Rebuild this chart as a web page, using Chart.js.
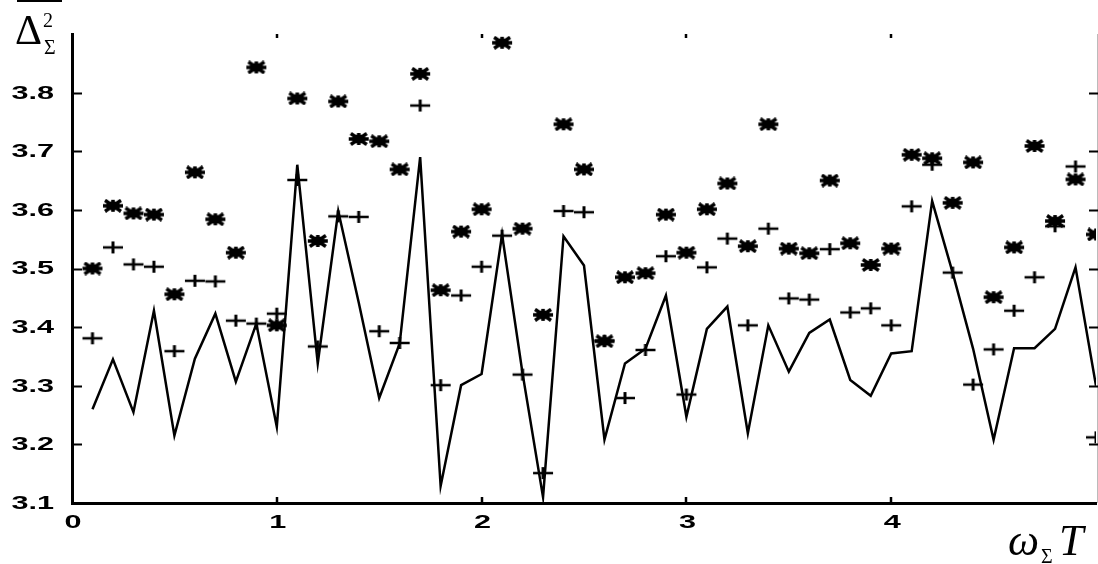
<!DOCTYPE html>
<html>
<head>
<meta charset="utf-8">
<title>chart</title>
<script src="https://cdn.jsdelivr.net/npm/chart.js@4.4.1/dist/chart.umd.min.js"></script>
<style>
  html, body { margin: 0; padding: 0; background: #fff; overflow: hidden; }
  canvas { display: block; }
</style>
</head>
<body>
<canvas id="myChart" width="1101" height="564"></canvas>
<script>
// x positions (omega_sigma * T)
const xValues = [0.1, 0.2, 0.3, 0.4, 0.5, 0.6, 0.7, 0.8, 0.9, 1.0,
                 1.1, 1.2, 1.3, 1.4, 1.5, 1.6, 1.7, 1.8, 1.9, 2.0,
                 2.1, 2.2, 2.3, 2.4, 2.5, 2.6, 2.7, 2.8, 2.9, 3.0,
                 3.1, 3.2, 3.3, 3.4, 3.5, 3.6, 3.7, 3.8, 3.9, 4.0,
                 4.1, 4.2, 4.3, 4.4, 4.5, 4.6, 4.7, 4.8, 4.9, 5.0];

// solid line
const lineValues = [3.26, 3.345, 3.255, 3.428, 3.215, 3.346, 3.423, 3.307, 3.406, 3.23,
                    3.677, 3.338, 3.598, 3.442, 3.279, 3.372, 3.69, 3.129, 3.301, 3.32,
                    3.558, 3.321, 3.11, 3.555, 3.505, 3.208, 3.338, 3.363, 3.454, 3.247,
                    3.397, 3.435, 3.219, 3.403, 3.324, 3.39, 3.413, 3.31, 3.283, 3.355,
                    3.359, 3.615, 3.493, 3.363, 3.208, 3.364, 3.364, 3.397, 3.502, 3.30];

// '*' markers
const starValues = [3.50, 3.607, 3.594, 3.592, 3.456, 3.664, 3.584, 3.527, 3.843, 3.403,
                    3.79, 3.547, 3.785, 3.721, 3.717, 3.669, 3.832, 3.463, 3.563, 3.601,
                    3.885, 3.568, 3.421, 3.746, 3.669, 3.376, 3.485, 3.492, 3.592, 3.527,
                    3.601, 3.645, 3.538, 3.746, 3.534, 3.526, 3.65, 3.543, 3.506, 3.534,
                    3.694, 3.688, 3.612, 3.681, 3.451, 3.536, 3.709, 3.581, 3.652, 3.558];

// '+' markers
const plusValues = [3.381, 3.536, 3.507, 3.503, 3.359, 3.479, 3.478, 3.411, 3.406, 3.423,
                    3.651, 3.367, 3.589, 3.588, 3.393, 3.373, 3.778, 3.301, 3.454, 3.503,
                    3.556, 3.319, 3.151, 3.598, 3.596, 3.377, 3.279, 3.361, 3.521, 3.285,
                    3.502, 3.551, 3.403, 3.568, 3.449, 3.447, 3.533, 3.425, 3.432, 3.403,
                    3.606, 3.677, 3.493, 3.302, 3.362, 3.428, 3.485, 3.572, 3.674, 3.212];

// tick labels that are visible
const xTickLabels = ['0', '1', '2', '3', '4'];
const yTickLabels = ['3.1', '3.2', '3.3', '3.4', '3.5', '3.6', '3.7', '3.8'];

function toPoints(ys) {
    return xValues.map((x, i) => ({ x: x, y: ys[i] }));
}

// marker images (stretched, like the picture)
function makeStar() {
    const c = document.createElement('canvas');
    c.width = 22; c.height = 14;
    const g = c.getContext('2d');
    g.strokeStyle = '#000';
    g.fillStyle = '#000';
    g.lineWidth = 3.5;
    g.beginPath();
    g.moveTo(1, 7); g.lineTo(21, 7);
    g.moveTo(3, 1.5); g.lineTo(19, 12.5);
    g.moveTo(3, 12.5); g.lineTo(19, 1.5);
    g.moveTo(11, 1); g.lineTo(11, 13);
    g.stroke();
    g.beginPath();
    g.ellipse(11, 7, 7, 4.5, 0, 0, Math.PI * 2);
    g.fill();
    return c;
}

function makePlus() {
    const c = document.createElement('canvas');
    c.width = 22; c.height = 14;
    const g = c.getContext('2d');
    g.strokeStyle = '#000';
    g.lineWidth = 2.5;
    g.beginPath();
    g.moveTo(1, 7); g.lineTo(21, 7);
    g.stroke();
    g.lineWidth = 3;
    g.beginPath();
    g.moveTo(11, 1); g.lineTo(11, 13);
    g.stroke();
    return c;
}

function wideText(ctx, txt, x, y, sx, align) {
    ctx.save();
    ctx.translate(x, y);
    ctx.scale(sx, 1);
    ctx.textAlign = align;
    ctx.fillText(txt, 0, 0);
    ctx.restore();
}

const RIGHT_EDGE = 1097; // where the right box edge shows in the window

// ticks, labels and axis titles, drawn MATLAB style
const decor = {
    id: 'decor',
    afterDraw(chart) {
        const { ctx, chartArea: a, scales: { x, y } } = chart;
        ctx.save();
        ctx.strokeStyle = '#000';
        ctx.fillStyle = '#000';

        // right box edge
        ctx.strokeStyle = '#bbb';
        ctx.lineWidth = 1;
        ctx.beginPath();
        ctx.moveTo(RIGHT_EDGE + 0.5, a.top);
        ctx.lineTo(RIGHT_EDGE + 0.5, a.bottom);
        ctx.stroke();
        ctx.strokeStyle = '#000';

        // y ticks (inside, both sides)
        ctx.lineWidth = 2;
        y.ticks.forEach(t => {
            if (t.value <= y.min + 1e-9 || t.value >= y.max - 1e-9) return;
            const py = Math.round(y.getPixelForValue(t.value)) + 0.5;
            ctx.beginPath();
            ctx.moveTo(a.left, py); ctx.lineTo(a.left + 10, py);
            ctx.moveTo(RIGHT_EDGE - 8, py); ctx.lineTo(RIGHT_EDGE + 1, py);
            ctx.stroke();
        });

        // x ticks (inside, bottom and top)
        ctx.lineWidth = 2.5;
        x.ticks.forEach(t => {
            if (t.value <= x.min || t.value >= x.max) return;
            const px = Math.round(x.getPixelForValue(t.value));
            ctx.beginPath();
            ctx.moveTo(px, a.bottom); ctx.lineTo(px, a.bottom - 6);
            ctx.moveTo(px, a.top); ctx.lineTo(px, a.top + 4);
            ctx.stroke();
        });

        // tick labels
        ctx.font = 'bold 18px "Liberation Sans", Arial, sans-serif';
        ctx.textBaseline = 'middle';
        yTickLabels.forEach(lbl => {
            const py = y.getPixelForValue(parseFloat(lbl));
            wideText(ctx, lbl, 54, py + 1, 1.7, 'right');
        });
        xTickLabels.forEach(lbl => {
            const px = x.getPixelForValue(parseFloat(lbl));
            wideText(ctx, lbl, px + 1, 523, 1.7, 'center');
        });

        // y title: overline Delta^2_Sigma
        ctx.textBaseline = 'alphabetic';
        ctx.textAlign = 'left';
        ctx.font = '42px "Liberation Serif", "Times New Roman", serif';
        ctx.fillText('\u0394', 15, 44);
        ctx.font = '20px "Liberation Serif", "Times New Roman", serif';
        ctx.fillText('2', 43, 27);
        ctx.font = '20px "Liberation Serif", "Times New Roman", serif';
        ctx.fillText('\u03A3', 44, 54);
        ctx.lineWidth = 2;
        ctx.beginPath();
        ctx.moveTo(17, 1); ctx.lineTo(62, 1);
        ctx.stroke();

        // x title: omega_Sigma T
        ctx.font = 'italic 44px "Liberation Serif", "Times New Roman", serif';
        ctx.fillText('\u03C9', 1008, 555);
        ctx.font = '20px "Liberation Serif", "Times New Roman", serif';
        ctx.fillText('\u03A3', 1041, 563);
        ctx.font = 'italic 44px "Liberation Serif", "Times New Roman", serif';
        ctx.fillText('T', 1059, 555);

        ctx.restore();
    }
};

const data = {
    datasets: [
        {
            type: 'line',
            label: 'line',
            data: toPoints(lineValues),
            borderColor: '#000',
            borderWidth: 2.5,
            pointRadius: 0,
            tension: 0,
            fill: false,
            order: 3,
        },
        {
            type: 'scatter',
            label: 'star',
            data: toPoints(starValues),
            pointStyle: makeStar(),
            order: 2,
        },
        {
            type: 'scatter',
            label: 'plus',
            data: toPoints(plusValues),
            pointStyle: makePlus(),
            order: 1,
        },
    ],
};

const config = {
    data,
    options: {
        responsive: false,
        animation: false,
        devicePixelRatio: 1,
        layout: { padding: { left: 72, top: 34, right: 0, bottom: 61 } },
        scales: {
            x: {
                type: 'linear',
                min: 0,
                max: 5,
                ticks: { stepSize: 1, display: false },
                grid: { display: false, drawTicks: false },
                border: { display: true, color: '#000', width: 3 },
                afterFit(s) { s.height = 0; },
            },
            y: {
                type: 'linear',
                min: 3.1,
                max: 3.9,
                ticks: { stepSize: 0.1, display: false },
                grid: { display: false, drawTicks: false },
                border: { display: true, color: '#000', width: 3 },
                afterFit(s) { s.width = 0; },
            }
        },
        plugins: {
            legend: { display: false },
            tooltip: { enabled: false },
        },
    },
    plugins: [decor],
};

const myChart = new Chart(document.getElementById('myChart'), config);
</script>
</body>
</html>
